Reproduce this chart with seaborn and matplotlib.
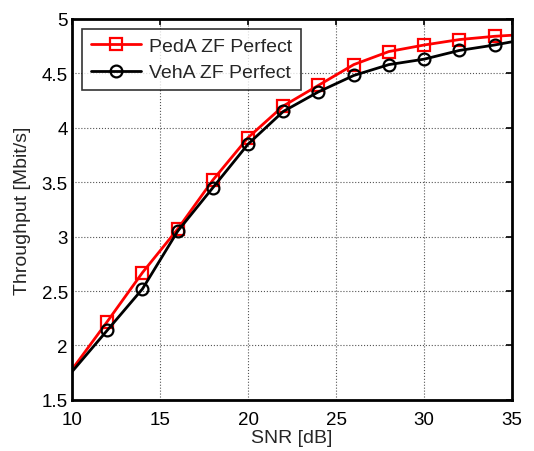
import numpy as np
import pandas as pd
import matplotlib
matplotlib.use("Agg")
import matplotlib.pyplot as plt
import seaborn as sns

snr = [10, 12, 14, 16, 18, 20, 22, 24, 26, 28, 30, 32, 34, 35]
peda = [1.78, 2.22, 2.67, 3.07, 3.52, 3.91, 4.20, 4.39, 4.58, 4.70, 4.76, 4.81, 4.84, 4.85]
veha = [1.76, 2.14, 2.52, 3.05, 3.45, 3.85, 4.15, 4.33, 4.48, 4.58, 4.63, 4.71, 4.76, 4.79]
labels = ["PedA ZF Perfect", "VehA ZF Perfect"]

sns.set_style("white")
plt.rcParams['font.family'] = ['Liberation Sans', 'DejaVu Sans']

fig = plt.figure(figsize=(5.34, 4.52), dpi=100)
ax = fig.add_axes([0.135, 0.113, 0.824, 0.843])

df = pd.DataFrame({"snr": snr, "peda": peda, "veha": veha})
marks = list(range(1, len(snr) - 1))

sns.lineplot(data=df, x="snr", y="peda", ax=ax, color="red", lw=2,
             marker="s", markersize=8, markevery=marks, markerfacecolor="none",
             markeredgecolor="red", markeredgewidth=1.6, label=labels[0])
sns.lineplot(data=df, x="snr", y="veha", ax=ax, color="black", lw=2,
             marker="o", markersize=8.5, markevery=marks, markerfacecolor="none",
             markeredgecolor="black", markeredgewidth=1.6, label=labels[1])

ax.set_xlim(10, 35)
ax.set_ylim(1.5, 5)
ax.set_xticks([10, 15, 20, 25, 30, 35])
ax.set_yticks([1.5, 2, 2.5, 3, 3.5, 4, 4.5, 5])
ax.set_yticklabels(["1.5", "2", "2.5", "3", "3.5", "4", "4.5", "5"])
ax.grid(True, color="#555555", linestyle=":", linewidth=0.8)
for s in ax.spines.values():
    s.set_linewidth(2)
    s.set_color("black")
ax.tick_params(direction="in", length=4, width=1.2, top=True, right=True,
               labelsize=13.5, colors="black")
ax.tick_params(axis="x", pad=8)
ax.tick_params(axis="y", pad=3)
ax.set_xlabel("SNR [dB]", fontsize=14, labelpad=1)
ax.set_ylabel("Throughput [Mbit/s]", fontsize=14, labelpad=8)

leg = ax.legend(loc="upper left", fontsize=14, frameon=True, fancybox=False,
                edgecolor="black", borderpad=0.45, handlelength=2.6,
                handletextpad=0.4, labelspacing=0.45, borderaxespad=0.5)
leg.get_frame().set_linewidth(1.2)

fig.savefig("out.png", dpi=100)
